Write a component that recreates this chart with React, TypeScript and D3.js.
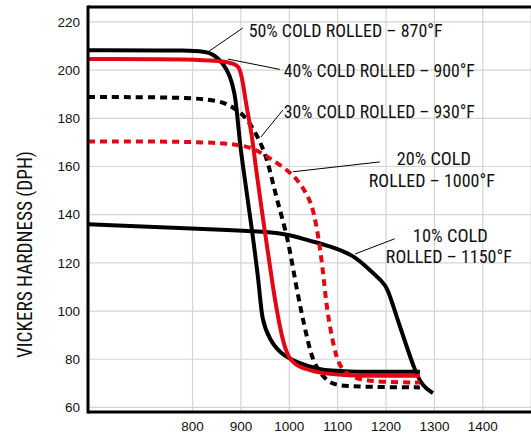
import React, { useEffect } from 'react';
import * as d3 from 'd3';

const width = 531
const height = 434

// temperature (°F) vs Vickers hardness
const cold50: [number, number][] = [
  [584, 208.3], [812, 208.3], [840, 207.2], [863, 203.0], [877, 198.0], [887, 190.9],
  [892, 182.6], [898, 169.5], [904, 160.6], [923, 133.7], [939, 108.8], [943, 96.3],
  [960, 88.0], [980, 82.6], [1016, 78.5], [1063, 75.6], [1104, 74.8], [1270, 74.8],
]
const cold40: [number, number][] = [
  [584, 204.6], [883, 204.6], [898, 200.9], [904, 195.1], [912, 184.3], [923, 173.1],
  [929, 161.9], [949, 133.7], [966, 110.0], [980, 93.4], [995, 81.0], [1016, 76.8],
  [1063, 74.2], [1119, 73.1], [1270, 73.1],
]
const cold30: [number, number][] = [
  [584, 188.8], [836, 188.8], [877, 185.5], [908, 181.4], [933, 173.1], [949, 166.0],
  [960, 158.5], [976, 144.9], [997, 130.7], [1015, 109.0], [1036, 89.3], [1049, 78.9],
  [1069, 72.7], [1090, 69.4], [1119, 68.9], [1160, 68.5], [1270, 68.3],
]
const cold20: [number, number][] = [
  [584, 170.4], [883, 170.4], [933, 167.0], [965, 162.7], [1005, 157.3], [1028, 151.5],
  [1046, 144.9], [1057, 134.9], [1067, 121.2], [1073, 110.0], [1078, 100.5], [1090, 86.8],
  [1104, 75.6], [1139, 71.5], [1193, 70.5], [1270, 70.3],
]
const cold10: [number, number][] = [
  [584, 136.0], [877, 133.7], [987, 132.6], [1036, 129.5], [1090, 126.6], [1131, 123.3],
  [1160, 118.3], [1193, 112.1], [1203, 109.6], [1222, 97.6], [1243, 85.1], [1259, 75.6],
  [1276, 68.5], [1297, 66.0],
]

const xTicks = [800, 900, 1000, 1100, 1200, 1300, 1400]
const xGrid = [800, 900, 1000, 1100, 1200, 1300, 1400, 1500]
const yTicks = [60, 80, 100, 120, 140, 160, 180, 200, 220]

// label lines: [text, temp, hardness] at text start / baseline
const labelLines: [string, number, number][] = [
  ['50% COLD ROLLED – 870°F', 916, 213.7],
  ['40% COLD ROLLED – 900°F', 988.7, 197.0],
  ['30% COLD ROLLED – 930°F', 988.7, 180.2],
  ['20% COLD', 1222.3, 160.6],
  ['ROLLED – 1000°F', 1164.4, 151.6],
  ['10% COLD', 1255.4, 128.8],
  ['ROLLED – 1150°F', 1199.6, 119.8],
]
const labelWidths = [194, 191, 191, 74, 126, 75, 126]

// leader lines: from label to curve
const leaders: [number, number, number, number][] = [
  [904, 217.5, 831.6, 207.5],
  [980.4, 200.3, 873, 204.6],
  [986.6, 183.4, 941.2, 172.2],
  [1187, 161.9, 1007.3, 157.8],
  [1217.9, 130.0, 1136.0, 123.7],
]

const RED = '#e30613'
const narrow = '"Liberation Sans Narrow", "Roboto Condensed", "DejaVu Sans Condensed", "Liberation Sans", sans-serif'

const series = [
  { data: cold50, color: '#000', dash: null },
  { data: cold10, color: '#000', dash: null },
  { data: cold30, color: '#000', dash: '7,5' },
  { data: cold20, color: RED, dash: '7,5' },
  { data: cold40, color: RED, dash: null },
]

export default function App() {
  useEffect(() => {
    document.body.style.margin = '0'
  }, [])

  const x = d3.scaleLinear().domain([584, 1500]).range([88, 531.2])
  const y = d3.scaleLinear().domain([58.1, 226.2]).range([412, 7])

  const line = d3
    .line<[number, number]>()
    .x(d => x(d[0]))
    .y(d => y(d[1]))
    .curve(d3.curveBasis)

  return (
    <svg width={width} height={height} style={{ display: 'block', background: '#fff' }}>
      {/* grid */}
      <g stroke="#d4d4d4" strokeWidth={1.2}>
        {yTicks.map(t => (
          <line key={'h' + t} x1={x(584)} x2={width} y1={y(t)} y2={y(t)} />
        ))}
        {xGrid.map(t => (
          <line key={'v' + t} x1={x(t)} x2={x(t)} y1={y(226.2)} y2={y(58.1)} />
        ))}
      </g>

      {/* curves */}
      <g fill="none" strokeWidth={4} strokeLinejoin="round">
        {series.map((s, i) => (
          <path
            key={i}
            d={line(s.data) || ''}
            stroke={s.color}
            strokeDasharray={s.dash || undefined}
          />
        ))}
      </g>

      {/* leaders */}
      <g stroke="#000" strokeWidth={1}>
        {leaders.map((l, i) => (
          <line key={i} x1={x(l[0])} y1={y(l[1])} x2={x(l[2])} y2={y(l[3])} />
        ))}
      </g>

      {/* labels */}
      <g fontFamily={narrow} fontSize={18} fill="#111">
        {labelLines.map((l, i) => (
          <text
            key={i}
            x={x(l[1])}
            y={y(l[2])}
            textLength={labelWidths[i]}
            lengthAdjust="spacingAndGlyphs"
          >
            {l[0]}
          </text>
        ))}
      </g>

      {/* frame */}
      <g stroke="#000" strokeWidth={3} fill="none">
        <line x1={x(584)} x2={width} y1={y(226.2)} y2={y(226.2)} />
        <line x1={x(584)} x2={width} y1={y(58.1)} y2={y(58.1)} />
        <line x1={x(584)} x2={x(584)} y1={y(226.2) - 1.5} y2={y(58.1) + 1.5} />
      </g>

      {/* tick labels */}
      <g fontFamily='"Liberation Sans", Arial, sans-serif' fontSize={13.5} fill="#111">
        {yTicks.map(t => (
          <text key={t} x={80} y={y(t)} dy="0.35em" textAnchor="end">
            {t}
          </text>
        ))}
        {xTicks.map(t => (
          <text key={t} x={x(t)} y={431} textAnchor="middle">
            {t}
          </text>
        ))}
      </g>

      <text
        transform={`translate(32,${(y(226.2) + y(58.1)) / 2 + 45}) rotate(-90)`}
        fontFamily={narrow}
        fontSize={21}
        fill="#111"
        textAnchor="middle"
        textLength={207}
        lengthAdjust="spacingAndGlyphs"
      >
        VICKERS HARDNESS (DPH)
      </text>
    </svg>
  )
}
